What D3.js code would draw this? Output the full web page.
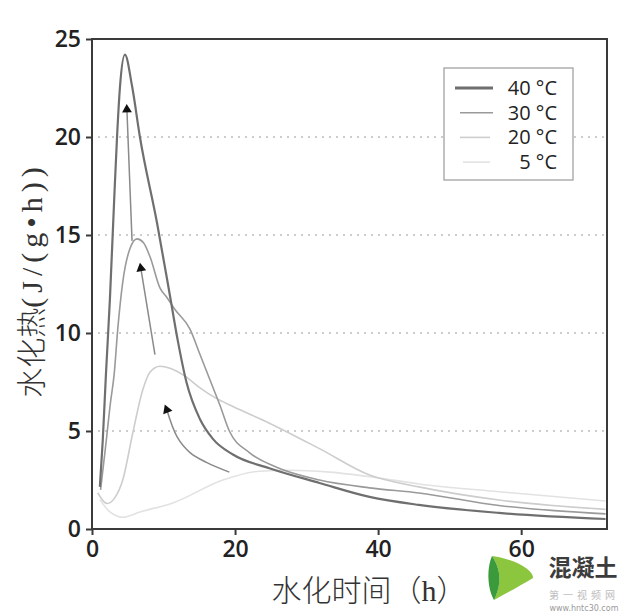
<!DOCTYPE html>
<html><head><meta charset="utf-8">
<script src="https://cdn.jsdelivr.net/npm/d3@7"></script>
<style>body{margin:0;background:#fff}svg{display:block}</style>
</head><body>
<svg id="c" width="640" height="616"></svg>
<script>
// ---- data ----
const seriesNames = ["40 °C", "30 °C", "20 °C", "5 °C"];
const t40 = [1.1,1.5,1.95,2.5,3.1,3.5,3.9,4.6,5.6,6.7,9.1,10.9,12.0,13.2,15.1,16.9,19.7,24.8,31.8,38.8,45.7,56.9,71.8];
const h40 = [2.15,4.5,7.9,11.7,16.8,20,22.5,24.2,22.6,20,15.6,11.9,9.6,7.5,5.6,4.6,3.8,3.1,2.35,1.64,1.23,0.82,0.51];
const t30 = [1.2,1.9,2.6,3.1,3.6,4.3,5.3,6.3,7.2,8.1,9.5,10.5,11.6,13.7,15.1,16.5,17.9,19.2,22.0,25.8,31.8,38.8,45.7,56.9,71.8];
const h30 = [2.0,4.2,6.5,7.9,10.2,12.6,14.3,14.8,14.6,13.9,12.3,11.8,11.2,10.2,8.9,7.6,6.3,5.0,3.9,3.15,2.5,2.1,1.84,1.2,0.77];
const t20 = [0.8,2.1,3.2,4.3,5.7,7.1,8.1,9.5,10.9,13.0,15.1,17.2,19.7,24.8,31.8,38.8,45.7,56.9,71.8];
const h20 = [1.85,1.3,1.6,2.5,4.9,7.1,8.0,8.3,8.2,7.8,7.2,6.7,6.25,5.4,4.1,2.75,2.15,1.48,1.0];
const t5  = [1.1,2.5,4.3,6.7,11.3,18.3,23.4,27.6,33.2,40.2,45.7,56.9,71.8];
const h5  = [1.5,0.87,0.6,0.87,1.33,2.5,2.95,3.0,2.9,2.6,2.3,1.9,1.43];
// arrows (from lower-temperature peak to higher-temperature peak)
const arrow1 = [[5.6,14.7],[4.88,21.4]];
const arrow2 = [[8.8,8.9],[6.83,13.3]];
const arrow3 = [[19.2,2.9],[16.0,3.4],[13.7,3.9],[11.9,4.7],[10.46,6.08]];
const xTicks = [0,20,40,60];
const yTicks = [0,5,10,15,20,25];
const gridVals = [5,10,15,20];

// ---- layout ----
const svg = d3.select("#c");
const x = d3.scaleLinear().domain([0,72]).range([92,607]);
const y = d3.scaleLinear().domain([0,25]).range([529,39]);
const colors = ["#6f6f6f","#9a9a9a","#cdcdcd","#e2e2e2"];
const widths = [2.2,1.6,1.6,1.6];
const series = [[t40,h40],[t30,h30],[t20,h20],[t5,h5]];

// grid
svg.append("g").selectAll("line").data(gridVals).join("line")
  .attr("x1",98).attr("x2",607).attr("y1",d=>y(d)).attr("y2",d=>y(d))
  .attr("stroke","#bdbdbd").attr("stroke-width",1.6).attr("stroke-dasharray","2,5");

// curves
const line = d3.line().x(d=>x(d[0])).y(d=>y(d[1])).curve(d3.curveMonotoneX);
svg.append("g").selectAll("path").data(series.slice().reverse()).join("path")
  .attr("d",d=>line(d[0].map((t,i)=>[t,d[1][i]])))
  .attr("fill","none")
  .attr("stroke",(d,i)=>colors[3-i]).attr("stroke-width",(d,i)=>widths[3-i]);

// arrows
const aline = d3.line().x(d=>x(d[0])).y(d=>y(d[1])).curve(d3.curveCatmullRom.alpha(0.5));
[arrow1,arrow2,arrow3].forEach(a=>{
  svg.append("path").attr("d",aline(a)).attr("fill","none").attr("stroke","#8a8a8a").attr("stroke-width",1.5);
  const p1=a[a.length-2], p2=a[a.length-1];
  const ang=Math.atan2(y(p2[1])-y(p1[1]), x(p2[0])-x(p1[0]))*180/Math.PI+90;
  svg.append("path").attr("d",d3.symbol(d3.symbolTriangle,42)())
    .attr("transform",`translate(${x(p2[0])},${y(p2[1])}) rotate(${ang})`).attr("fill","#111");
});

// frame
svg.append("rect").attr("x",x(0)).attr("y",y(25)).attr("width",x(72)-x(0)).attr("height",y(0)-y(25))
  .attr("fill","none").attr("stroke","#3a3a3a").attr("stroke-width",2);

// axes
const yAxis = svg.append("g").attr("transform",`translate(${x(0)},0)`)
  .call(d3.axisLeft(y).tickValues(yTicks).tickSize(6).tickPadding(5));
const xAxis = svg.append("g").attr("transform",`translate(0,${y(0)})`)
  .call(d3.axisBottom(x).tickValues(xTicks).tickSize(6).tickPadding(6));
[yAxis,xAxis].forEach(g=>{
  g.select(".domain").remove();
  g.selectAll("line").attr("stroke","#3a3a3a").attr("stroke-width",2);
  g.selectAll("text").attr("font-family","'Open Sans',sans-serif").attr("font-weight",600)
   .attr("font-size",23).attr("fill","#222");
});

// axis titles
const yt = svg.append("text").attr("transform","translate(42,280) rotate(-90)")
  .attr("text-anchor","middle").attr("font-size",30).attr("fill","#333");
yt.append("tspan").attr("font-family","'Noto Sans CJK SC'").attr("font-weight",300).text("水化热");
yt.append("tspan").attr("font-family","'Liberation Serif',serif").attr("letter-spacing",5).text("(J/(g•h))");

const xt = svg.append("text").attr("x",369).attr("y",601).attr("text-anchor","middle")
  .attr("font-size",30).attr("fill","#333");
xt.append("tspan").attr("font-family","'Noto Sans CJK SC'").attr("font-weight",300).text("水化时间（");
xt.append("tspan").attr("font-family","'Liberation Serif',serif").text("h");
xt.append("tspan").attr("font-family","'Noto Sans CJK SC'").attr("font-weight",300).text("）");

// legend
const lg = svg.append("g");
lg.append("rect").attr("x",444).attr("y",68).attr("width",129).attr("height",112)
  .attr("fill","#fff").attr("stroke","#9a9a9a").attr("stroke-width",1.2);
const lx1=[455,460,460,463], lx2=[493,493,490,490];
seriesNames.forEach((n,i)=>{
  const yy = 88 + i*24.7;
  lg.append("line").attr("x1",lx1[i]).attr("x2",lx2[i]).attr("y1",yy).attr("y2",yy)
    .attr("stroke",colors[i]).attr("stroke-width",i===0?3:1.6);
  lg.append("text").attr("x",557).attr("y",yy).attr("dy","0.35em").attr("text-anchor","end")
    .attr("font-family","'Open Sans',sans-serif").attr("font-size",20).attr("fill","#222").text(n);
});

// watermark
const wm = svg.append("g");
wm.append("path").attr("d","M492,556 C520,560 534,572 533,578 C520,586 505,594 494,600 C500,588 503,572 492,556 Z").attr("fill","#8cc63f");
wm.append("path").attr("d","M492,556 C503,572 500,588 494,600 C488,590 486,570 492,556 Z").attr("fill","#3a9a3c");
wm.append("text").attr("x",583).attr("y",576).attr("text-anchor","middle").attr("font-family","'Noto Sans CJK SC'")
  .attr("font-weight",700).attr("font-size",23).attr("fill","#3c3c3c").text("混凝土");
wm.append("text").attr("x",584).attr("y",599).attr("text-anchor","middle").attr("font-family","'Noto Sans CJK SC'")
  .attr("font-size",10).attr("fill","#bdbdbd").attr("letter-spacing",4).text("第一视频网");
wm.append("text").attr("x",584).attr("y",611).attr("text-anchor","middle").attr("font-family","'DejaVu Sans',sans-serif")
  .attr("font-size",8).attr("fill","#9a9a9a").text("www.hntc30.com");
</script>
</body></html>
